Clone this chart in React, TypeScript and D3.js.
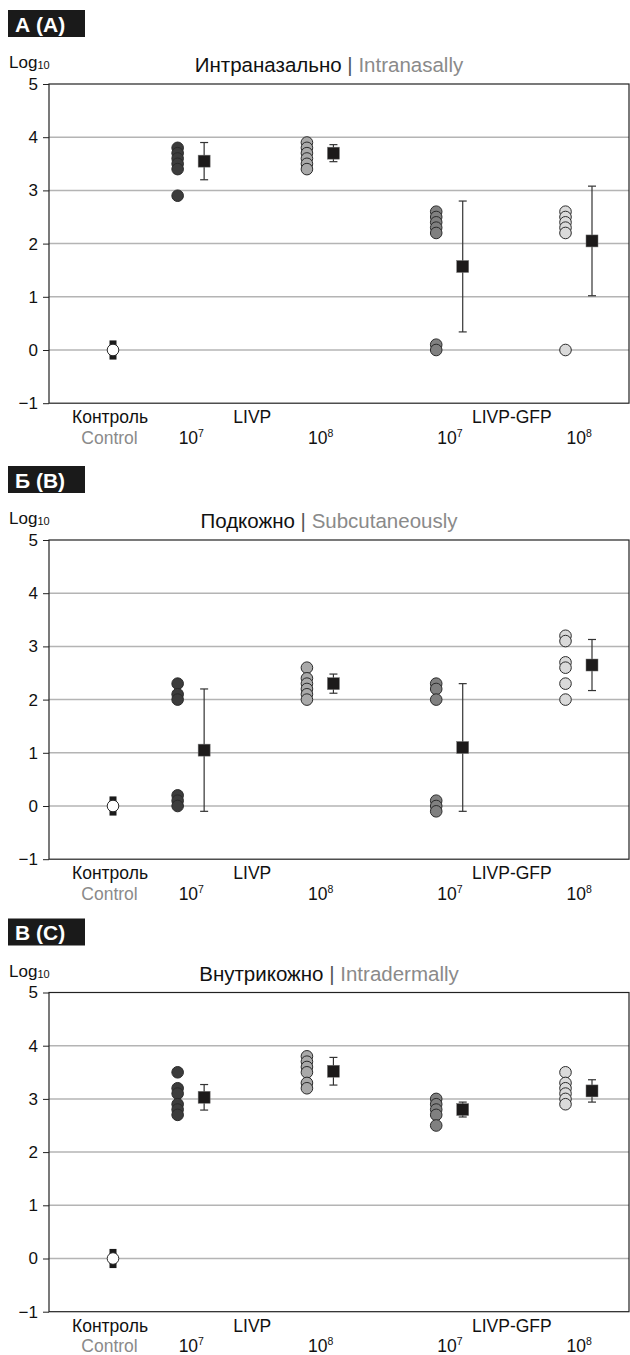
import React, { useRef, useEffect } from "react";
import * as d3 from "d3";

// groups along the x axis
const groups = ["Control", "LIVP 10^7", "LIVP 10^8", "LIVP-GFP 10^7", "LIVP-GFP 10^8"];
const groupFills = ["#ffffff", "#3c3c3c", "#a9a9a9", "#808080", "#dadada"];

const panelLabels = ["А (A)", "Б (B)", "В (C)"];
const routesRu = ["Интраназально", "Подкожно", "Внутрикожно"];
const routesEn = ["Intranasally", "Subcutaneously", "Intradermally"];

const yTicks = [-1, 0, 1, 2, 3, 4, 5];

// individual animals, log10 titers
const intranasalPoints = [
  [0],
  [3.8, 3.7, 3.6, 3.5, 3.4, 2.9],
  [3.9, 3.8, 3.7, 3.6, 3.5, 3.4],
  [2.6, 2.5, 2.4, 2.3, 2.2, 0.1, 0],
  [2.6, 2.5, 2.4, 2.3, 2.2, 0],
];
const intranasalMeans = [0, 3.55, 3.7, 1.57, 2.05];
const intranasalErrors = [0.18, 0.35, 0.16, 1.23, 1.03];

const subcutaneousPoints = [
  [0],
  [2.3, 2.1, 2.0, 0.2, 0.1, 0],
  [2.6, 2.4, 2.3, 2.2, 2.1, 2.0],
  [2.3, 2.2, 2.0, 0.1, 0, -0.1],
  [3.2, 3.1, 2.7, 2.6, 2.3, 2.0],
];
const subcutaneousMeans = [0, 1.05, 2.3, 1.1, 2.65];
const subcutaneousErrors = [0.18, 1.15, 0.18, 1.2, 0.48];

const intradermalPoints = [
  [0],
  [3.5, 3.2, 3.1, 2.9, 2.8, 2.7],
  [3.8, 3.7, 3.6, 3.5, 3.3, 3.2],
  [3.0, 2.9, 2.8, 2.7, 2.5],
  [3.5, 3.3, 3.2, 3.1, 3.0, 2.9],
];
const intradermalMeans = [0, 3.03, 3.52, 2.8, 3.15];
const intradermalErrors = [0.18, 0.24, 0.26, 0.14, 0.21];

const allPoints = [intranasalPoints, subcutaneousPoints, intradermalPoints];
const allMeans = [intranasalMeans, subcutaneousMeans, intradermalMeans];
const allErrors = [intranasalErrors, subcutaneousErrors, intradermalErrors];

const FONT = "'Liberation Sans', Arial, sans-serif";

const DotPlots: React.FC = () => {
  const ref = useRef<SVGSVGElement | null>(null);

  useEffect(() => {
    const width = 630;
    const height = 1355;
    const left = 49;
    const right = 629;
    const panelTops = [84, 540, 992.5];
    const unit = 53.2;
    const meanShift = 26.5;
    const labelSize = 17.5;

    const svg = d3
      .select(ref.current)
      .attr("viewBox", `0 0 ${width} ${height}`)
      .attr("width", width)
      .attr("height", height)
      .style("font-family", FONT);
    svg.selectAll("*").remove();

    // control sits half a slot left of the first dose group
    const slot = (i: number) => (i === 0 ? 0 : i - 0.5);
    const x = d3.scaleLinear().domain([0, 3.5]).range([113, 565.5]);

    panelTops.forEach((top, p) => {
      const y = d3.scaleLinear().domain([-1, 5]).range([top + 6 * unit, top]);
      const g = svg.append("g");

      // panel letter box
      g.append("rect")
        .attr("x", 8)
        .attr("y", top - 74)
        .attr("width", 77)
        .attr("height", 27)
        .attr("fill", "#1a1a1a");
      g.append("text")
        .attr("x", 15)
        .attr("y", top - 52.5)
        .attr("fill", "white")
        .attr("font-weight", "bold")
        .attr("font-size", 21)
        .text(panelLabels[p]);

      // Log10
      const lg = g
        .append("text")
        .attr("x", 9)
        .attr("y", top - 16)
        .attr("font-size", 17)
        .attr("fill", "#111");
      lg.append("tspan").text("Log");
      lg.append("tspan").attr("font-size", 11).attr("dy", 1).text("10");

      // title
      const tt = g
        .append("text")
        .attr("x", 329)
        .attr("y", top - 12)
        .attr("text-anchor", "middle")
        .attr("font-size", 20.5);
      tt.append("tspan").attr("fill", "#111").text(routesRu[p] + " ");
      tt.append("tspan").attr("fill", "#555").text("| ");
      tt.append("tspan").attr("fill", "#8a8a8a").text(routesEn[p]);

      // gridlines
      g.selectAll(".grid")
        .data(yTicks.filter((t) => t > -1 && t < 5))
        .join("line")
        .attr("x1", left)
        .attr("x2", right)
        .attr("y1", (d) => y(d))
        .attr("y2", (d) => y(d))
        .attr("stroke", "#b4b4b4")
        .attr("stroke-width", 1.5);

      // frame
      g.append("rect")
        .attr("x", left)
        .attr("y", y(5))
        .attr("width", right - left)
        .attr("height", y(-1) - y(5))
        .attr("fill", "none")
        .attr("stroke", "#222")
        .attr("stroke-width", 1.2);

      // y axis
      const axis = d3
        .axisLeft(y)
        .tickValues(yTicks)
        .tickSize(6)
        .tickPadding(5)
        .tickFormat((d) => (+d < 0 ? "\u2212" + Math.abs(+d) : String(d)));
      const ax = g.append("g").attr("transform", `translate(${left},0)`).call(axis);
      ax.select(".domain").remove();
      ax.selectAll("line").attr("stroke", "#222");
      ax.selectAll("text")
        .attr("font-size", 17)
        .attr("font-family", FONT)
        .attr("fill", "#111");

      // x labels
      const base = y(-1);
      g.append("text")
        .attr("x", 110)
        .attr("y", base + 20)
        .attr("text-anchor", "middle")
        .attr("font-size", labelSize)
        .attr("fill", "#111")
        .text("Контроль");
      g.append("text")
        .attr("x", 109.5)
        .attr("y", base + 40.5)
        .attr("text-anchor", "middle")
        .attr("font-size", labelSize)
        .attr("fill", "#8a8a8a")
        .text("Control");
      g.append("text")
        .attr("x", x(1) + 10)
        .attr("y", base + 20)
        .attr("text-anchor", "middle")
        .attr("font-size", labelSize)
        .attr("fill", "#111")
        .text("LIVP");
      g.append("text")
        .attr("x", x(3) + 11)
        .attr("y", base + 20)
        .attr("text-anchor", "middle")
        .attr("font-size", labelSize)
        .attr("fill", "#111")
        .text("LIVP-GFP");
      groups.slice(1).forEach((name, i) => {
        const exp = name.split("^")[1];
        const t = g
          .append("text")
          .attr("x", x(slot(i + 1)) + 1)
          .attr("y", base + 40.5)
          .attr("font-size", labelSize)
          .attr("fill", "#111");
        t.append("tspan").text("10");
        t.append("tspan").attr("font-size", 10.5).attr("dy", -7).text(exp);
      });

      // data
      groups.forEach((name, i) => {
        const cx = x(slot(i));
        const mean = allMeans[p][i];
        const err = allErrors[p][i];
        if (i === 0) {
          g.append("rect")
            .attr("x", cx - 3.5)
            .attr("y", y(mean + err))
            .attr("width", 7)
            .attr("height", y(mean - err) - y(mean + err))
            .attr("fill", "#1a1a1a");
        }
        g.selectAll(`.dot-${i}`)
          .data(allPoints[p][i])
          .join("circle")
          .attr("cx", cx)
          .attr("cy", (d) => y(d))
          .attr("r", 5.8)
          .attr("fill", groupFills[i])
          .attr("stroke", "#2a2a2a")
          .attr("stroke-width", 1);
        if (i > 0) {
          const mx = cx + meanShift;
          g.append("line")
            .attr("x1", mx)
            .attr("x2", mx)
            .attr("y1", y(mean + err))
            .attr("y2", y(mean - err))
            .attr("stroke", "#333")
            .attr("stroke-width", 1.2);
          [mean + err, mean - err].forEach((v) => {
            g.append("line")
              .attr("x1", mx - 4)
              .attr("x2", mx + 4)
              .attr("y1", y(v))
              .attr("y2", y(v))
              .attr("stroke", "#333")
              .attr("stroke-width", 1.2);
          });
          g.append("rect")
            .attr("x", mx - 6)
            .attr("y", y(mean) - 6)
            .attr("width", 12)
            .attr("height", 12)
            .attr("fill", "#1c1a1a")
            .attr("stroke", "#777")
            .attr("stroke-width", 0.5);
        }
      });
    });
  }, []);

  return <svg ref={ref}></svg>;
};

export default function App() {
  return (
    <div style={{ position: "absolute", left: 0, top: 0, background: "white" }}>
      <DotPlots />
    </div>
  );
}
